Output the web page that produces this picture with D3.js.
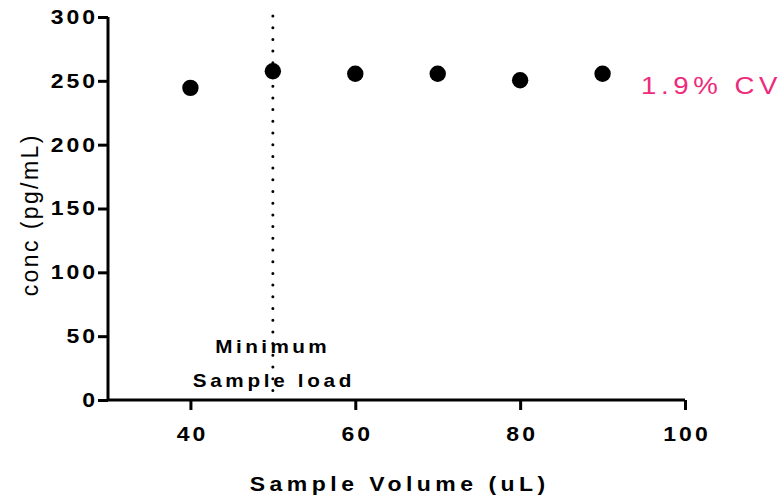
<!DOCTYPE html>
<html><head><meta charset="utf-8">
<script src="https://cdn.jsdelivr.net/npm/d3@7"></script>
<style>body{margin:0;background:#fff}svg{display:block}</style>
</head><body><div id="c"></div>
<script>
const volumes = [40, 50, 60, 70, 80, 90];
const conc = [244.5, 257.5, 255.5, 255.5, 250.5, 255.5];
const xTicks = [40, 60, 80, 100];
const yTicks = [0, 50, 100, 150, 200, 250, 300];
const minLoad = 50;
const cvLabel = "1.9% CV";

const W = 783, H = 495;
const S = 1.15; // horizontal glyph stretch
const svg = d3.select("#c").append("svg").attr("width", W).attr("height", H);
const x = d3.scaleLinear().domain([30, 100]).range([108, 685]);
const y = d3.scaleLinear().domain([0, 300]).range([400, 17]);
const font = "'Liberation Sans', Arial, sans-serif";

const xa = svg.append("g").attr("transform", "translate(0,400)")
  .call(d3.axisBottom(x).tickValues(xTicks).tickSize(10).tickPadding(17).tickFormat(d3.format("d")));
const ya = svg.append("g").attr("transform", "translate(108,0)")
  .call(d3.axisLeft(y).tickValues(yTicks).tickSize(10).tickPadding(5).tickFormat(d3.format("d")));
[xa, ya].forEach(g => {
  g.select(".domain").attr("stroke", "#000").attr("stroke-width", 3);
  g.selectAll(".tick line").attr("stroke", "#000").attr("stroke-width", 3);
  g.selectAll(".tick text").attr("fill", "#000").style("font-family", font)
    .style("font-size", "20px").style("font-weight", "bold").style("letter-spacing", "2.6px")
    .attr("transform", `scale(${S},1)`);
});
xa.selectAll(".tick text").attr("dx", 1.3);
ya.selectAll(".tick text").attr("x", -13 / S).attr("dx", 2.6);
xa.select(".domain").attr("d", `M${x(30)},0H${x(100)}`);
ya.select(".domain").attr("d", `M0,${y(300)}V${y(0)}`);

// dotted minimum line
svg.append("line").attr("x1", x(minLoad)).attr("x2", x(minLoad))
  .attr("y1", y(300) - 1).attr("y2", y(0))
  .attr("stroke", "#000").attr("stroke-width", 3)
  .attr("stroke-linecap", "round").attr("stroke-dasharray", "0 11.7");

svg.selectAll("circle.pt").data(volumes).enter().append("circle")
  .attr("class", "pt").attr("cx", d => x(d)).attr("cy", (d, i) => y(conc[i]))
  .attr("r", 8.2).attr("fill", "#000");

function label(txt, tx, ty, opts) {
  const s = opts.stretch || S;
  const t = svg.append("text")
    .attr("transform", `translate(${tx},${ty})${opts.rot ? " rotate(-90)" : ""} scale(${s},1)`)
    .attr("text-anchor", opts.anchor || "middle")
    .style("font-family", font).style("font-size", opts.size + "px")
    .style("font-weight", opts.bold ? "bold" : "normal")
    .style("letter-spacing", opts.ls + "px")
    .attr("fill", opts.fill || "#000").text(txt);
  if ((opts.anchor || "middle") === "middle") t.attr("dx", opts.ls / 2);
  return t;
}

label("Minimum", 271, 353, {size: 18, bold: true, ls: 3});
label("Sample load", 272, 387, {size: 18, bold: true, ls: 3.2});
label(cvLabel, 641, 94, {size: 24, ls: 4, anchor: "start", fill: "#ee2a7b"});
label("Sample Volume (uL)", 397.5, 491, {size: 20, bold: true, ls: 3.9});
label("conc (pg/mL)", 38, 216, {size: 23, ls: 2.4, rot: true, stretch: 1});
</script></body></html>
